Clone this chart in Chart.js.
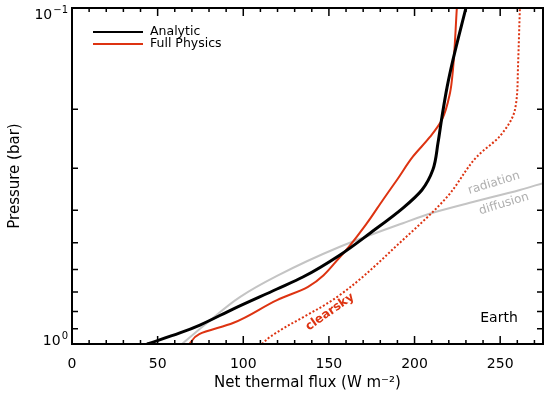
<!DOCTYPE html>
<html lang="en">

<head>
  <meta charset="UTF-8">
  <title>Net thermal flux - Earth</title>
  <style>
    html, body {
      margin: 0;
      padding: 0;
      background: #fff;
    }

    #wrap {
      width: 554px;
      height: 396px;
    }
  </style>
  <script src="https://cdn.jsdelivr.net/npm/chart.js@4.4.4/dist/chart.umd.js"></script>
</head>

<body>
  <div id="wrap">
    <canvas id="chart_1"></canvas>
  </div>
</body>
<script>
  // values (flux in W m^-2, pressure in bar)
  const analyticFlux = [43.8, 63, 74.7, 94, 119.7, 134.8, 156.5, 174, 193.2, 204.3, 210.7, 213.7, 216, 219, 222.4, 230];
  const analyticP = [1.0, 0.927, 0.878, 0.787, 0.686, 0.632, 0.543, 0.468, 0.394, 0.348, 0.303, 0.252, 0.211, 0.172, 0.143, 0.1];

  const fullFlux = [68.5, 74.3, 94, 119.7, 137.8, 156.5, 172.2, 181.6, 189.7, 199, 209, 216, 220.7, 222.4, 224.7];
  const fullP = [1.0, 0.934, 0.866, 0.74, 0.676, 0.551, 0.437, 0.372, 0.325, 0.277, 0.242, 0.215, 0.179, 0.153, 0.1];

  const clearFlux = [110.9, 115.6, 154.7, 193.2, 219, 236.4, 250, 258.6, 260.4, 261.5];
  const clearP = [1.0, 0.953, 0.725, 0.49, 0.365, 0.277, 0.24, 0.201, 0.15, 0.1];

  const diffFlux = [64.2, 78.8, 98, 119.7, 154.7, 193.2, 210.7, 232.3, 261.5, 275];
  const diffP = [1.0, 0.866, 0.725, 0.627, 0.518, 0.437, 0.407, 0.38, 0.348, 0.332];

  const xTicks = [0, 50, 100, 150, 200, 250];
  const xMinor = [10, 20, 30, 40, 60, 70, 80, 90, 110, 120, 130, 140, 160, 170, 180, 190, 210, 220, 230, 240, 260, 270];
  const yMinor = [0.2, 0.3, 0.4, 0.5, 0.6, 0.7, 0.8, 0.9];
  const yLabels = [{ value: 0.1, exp: '\u22121' }, { value: 1, exp: '0' }];

  const RED = '#dd3311';
  const GRAY = '#c4c4c4';
  const FONT = "'DejaVu Sans', sans-serif";

  function points(xs, ys) {
    return xs.map((x, i) => ({ x: x, y: ys[i] }));
  }

  // frame, inward ticks, y labels with exponents, legend and notes
  const decorations = {
    id: 'decorations',
    afterDraw(chart) {
      const ctx = chart.ctx;
      const { left, right, top, bottom } = chart.chartArea;
      const x = chart.scales.x;
      const y = chart.scales.y;
      ctx.save();

      ctx.strokeStyle = '#000';
      ctx.lineWidth = 2;
      ctx.strokeRect(left, top, right - left, bottom - top);

      ctx.lineWidth = 1.5;
      ctx.beginPath();
      xTicks.concat(xMinor).forEach(v => {
        const px = x.getPixelForValue(v);
        const len = xTicks.includes(v) ? 8 : 4;
        ctx.moveTo(px, bottom);
        ctx.lineTo(px, bottom - len);
        ctx.moveTo(px, top);
        ctx.lineTo(px, top + len);
      });
      yMinor.forEach(v => {
        const py = y.getPixelForValue(v);
        ctx.moveTo(left, py);
        ctx.lineTo(left + 6, py);
        ctx.moveTo(right, py);
        ctx.lineTo(right - 6, py);
      });
      ctx.stroke();

      // y labels: 10 with a raised exponent
      ctx.fillStyle = '#000';
      ctx.textBaseline = 'alphabetic';
      ctx.textAlign = 'left';
      yLabels.forEach(l => {
        const py = y.getPixelForValue(l.value);
        const base = l.value === 1 ? py + 1 : py + 11;
        ctx.font = '10px ' + FONT;
        const ew = ctx.measureText(l.exp).width;
        ctx.font = '14px ' + FONT;
        const bw = ctx.measureText('10').width;
        const xr = left - 4;
        ctx.fillText('10', xr - ew - 1 - bw, base);
        ctx.font = '10px ' + FONT;
        ctx.fillText(l.exp, xr - ew, base - 6);
      });

      // legend
      ctx.font = '12.5px ' + FONT;
      ctx.textBaseline = 'middle';
      [['Analytic', '#000', 32], ['Full Physics', RED, 44]].forEach(([label, color, ly]) => {
        ctx.strokeStyle = color;
        ctx.lineWidth = 2;
        ctx.beginPath();
        ctx.moveTo(left + 21, ly);
        ctx.lineTo(left + 71, ly);
        ctx.stroke();
        ctx.fillStyle = '#000';
        ctx.fillText(label, left + 78, ly);
      });

      // notes placed in data coordinates
      function note(text, fx, p, angle, color, font) {
        ctx.save();
        ctx.translate(x.getPixelForValue(fx), y.getPixelForValue(p));
        ctx.rotate(angle * Math.PI / 180);
        ctx.font = font + ' ' + FONT;
        ctx.fillStyle = color;
        ctx.textAlign = 'center';
        ctx.textBaseline = 'middle';
        ctx.fillText(text, 0, 0);
        ctx.restore();
      }
      note('radiation', 246.4, 0.332, -17, '#b0b0b0', '12px');
      note('diffusion', 252.2, 0.383, -17, '#b0b0b0', '12px');
      note('clearsky', 150.6, 0.803, -35, RED, 'bold 12px');
      note('Earth', 249.3, 0.838, 0, '#000', '14px');

      ctx.restore();
    }
  };

  new Chart('chart_1', {
    type: 'line',
    data: {
      datasets: [{
        label: 'radiation diffusion',
        data: points(diffFlux, diffP),
        borderColor: GRAY,
        borderWidth: 2,
        order: 4
      },
      {
        label: 'clearsky',
        data: points(clearFlux, clearP),
        borderColor: RED,
        borderWidth: 2,
        borderDash: [2, 2],
        order: 3
      },
      {
        label: 'Full Physics',
        data: points(fullFlux, fullP),
        borderColor: RED,
        borderWidth: 2,
        order: 2
      },
      {
        label: 'Analytic',
        data: points(analyticFlux, analyticP),
        borderColor: '#000',
        borderWidth: 3,
        order: 1
      }]
    },
    options: {
      indexAxis: 'y',
      responsive: true,
      maintainAspectRatio: false,
      animation: false,
      layout: {
        padding: { top: 8, right: 11, left: 0, bottom: 0 }
      },
      elements: {
        point: { radius: 0 },
        line: { cubicInterpolationMode: 'monotone' }
      },
      plugins: {
        legend: { display: false },
        tooltip: { enabled: false }
      },
      scales: {
        x: {
          type: 'linear',
          position: 'bottom',
          min: 0,
          max: 275,
          afterBuildTicks: s => { s.ticks = xTicks.map(v => ({ value: v })); },
          afterFit: s => { s.height = 52; },
          grid: { display: false, drawTicks: false },
          border: { display: false },
          ticks: {
            padding: 12,
            maxRotation: 0,
            color: '#000',
            font: { family: FONT, size: 14 }
          },
          title: {
            display: true,
            text: 'Net thermal flux (W m\u207B\u00B2)',
            color: '#000',
            font: { family: FONT, size: 15 },
            padding: { top: 0, bottom: 4 }
          }
        },
        y: {
          type: 'logarithmic',
          position: 'left',
          reverse: true,
          min: 0.1,
          max: 1,
          afterFit: s => { s.width = 72; },
          grid: { display: false, drawTicks: false },
          border: { display: false },
          ticks: { display: false },
          title: {
            display: true,
            text: 'Pressure (bar)',
            color: '#000',
            font: { family: FONT, size: 15 },
            padding: { top: 6, bottom: 0 }
          }
        }
      }
    },
    plugins: [decorations]
  });
</script>

</html>
